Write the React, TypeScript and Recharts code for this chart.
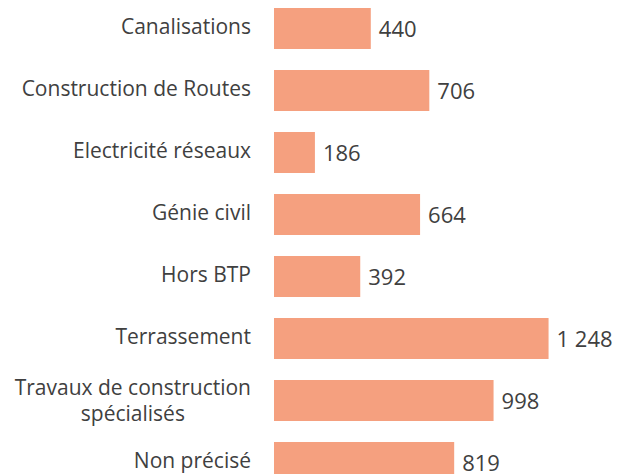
import React from 'react';
import { BarChart, Bar, XAxis, YAxis, LabelList } from 'recharts';

const categories = [
  'Canalisations',
  'Construction de Routes',
  'Electricité réseaux',
  'Génie civil',
  'Hors BTP',
  'Terrassement',
  'Travaux de construction\nspécialisés',
  'Non précisé',
];
const values = [440, 706, 186, 664, 392, 1248, 998, 819];

const data = categories.map((name, i) => ({ name, value: values[i] }));

const FONT = '"Open Sans", sans-serif';
const FONT_SIZE = 21;
const VALUE_SIZE = 22;
const TEXT = '#404040';

let ctx: CanvasRenderingContext2D | null = null;
function measure(s: string) {
  if (!ctx) ctx = document.createElement('canvas').getContext('2d');
  if (!ctx) return s.length * FONT_SIZE * 0.55;
  ctx.font = `${FONT_SIZE}px "Open Sans"`;
  return ctx.measureText(s).width;
}

// right-aligned block, lines centered within it
function CategoryTick(props: any) {
  const { x, y, payload } = props;
  const lines: string[] = String(payload.value).split('\n');
  const lineH = 26;
  const widest = Math.max(...lines.map(measure));
  const cx = x - widest / 2;
  const y0 = lines.length > 1 ? y - ((lines.length - 1) * lineH) / 2 + 1 : y - 1;
  return (
    <text x={cx} y={y0} textAnchor="middle" fill={TEXT} fontSize={FONT_SIZE} fontFamily={FONT}>
      {lines.map((l, i) => (
        <tspan key={i} x={cx} y={y0 + i * lineH} dy="0.355em">
          {l}
        </tspan>
      ))}
    </text>
  );
}

const fmt = (v: any) => Number(v).toLocaleString('fr-FR').replace(/\u202f|\u00a0/g, ' ');

function ValueLabel(props: any) {
  const { x, y, width, height, value } = props;
  return (
    <text
      x={x + width + 8}
      y={y + height / 2 + 1}
      dy="0.355em"
      fill={TEXT}
      fontSize={VALUE_SIZE}
      fontFamily={FONT}
    >
      {fmt(value)}
    </text>
  );
}

export default function App() {
  return (
    <div style={{ position: 'absolute', left: 0, top: 0, width: 617, height: 474, overflow: 'hidden', background: '#fff' }}>
      <div style={{ position: 'absolute', left: 0, top: -3 }}>
        <BarChart
          width={617}
          height={496}
          data={data}
          layout="vertical"
          margin={{ top: 0, right: 35, bottom: 0, left: 0 }}
          barSize={41}
        >
          <XAxis type="number" domain={[0, 1400]} hide />
          <YAxis
            type="category"
            dataKey="name"
            width={274}
            axisLine={false}
            tickLine={false}
            tickSize={0}
            tickMargin={23}
            interval={0}
            tick={<CategoryTick />}
          />
          <Bar dataKey="value" fill="#F5A07F" isAnimationActive={false}>
            <LabelList dataKey="value" content={<ValueLabel />} />
          </Bar>
        </BarChart>
      </div>
    </div>
  );
}
